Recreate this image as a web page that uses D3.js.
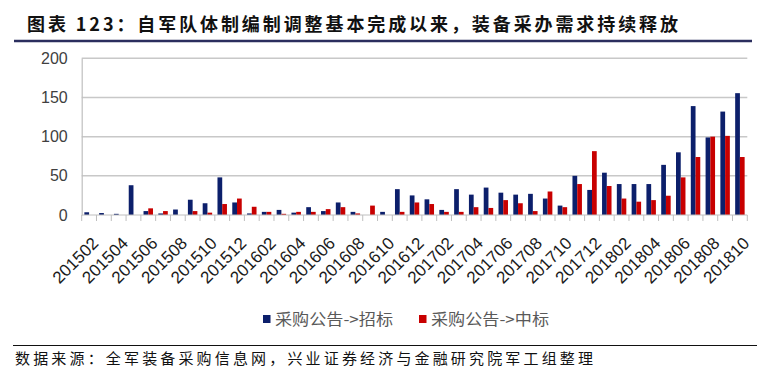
<!DOCTYPE html>
<html><head><meta charset="utf-8">
<script src="https://cdn.jsdelivr.net/npm/d3@7"></script>
<style>body{margin:0;background:#fff}svg{display:block}</style>
</head><body>
<script>
const months = ["201502","201503","201504","201505","201506","201507","201508","201509","201510","201511","201512",
"201601","201602","201603","201604","201605","201606","201607","201608","201609","201610","201611","201612",
"201701","201702","201703","201704","201705","201706","201707","201708","201709","201710","201711","201712",
"201801","201802","201803","201804","201805","201806","201807","201808","201809","201810"];
const tickLabels = ["201502","201504","201506","201508","201510","201512","201602","201604","201606","201608","201610","201612",
"201702","201704","201706","201708","201710","201712","201802","201804","201806","201808","201810"];
const zhaobiao = [3.5,2.5,1.5,38,5,2,7,19.5,15,48,16,2,4,6.5,3,10,5,16,4,0,4,33,25,20,6.5,33,26,35,28.5,26,27,21,12,50,32,54,39.5,39.5,39.5,64,80,139,99,132,155.5];
const zhongbiao = [0,0,0,0,8.5,5,0,5,3,14,21,10.5,4,1.5,4,4,7.5,10,2,12,0,4,16,14,4,4,10,9,19,15,5,30,10,39.5,81.5,37,21,17,19,24.6,48,74,100,101,74];
const yTicks = [0,50,100,150,200];
const seriesNames = ["采购公告->招标","采购公告->中标"];
const colors = ["#0C1F6B","#C80000"];
const titleText = "图表 123：自军队体制编制调整基本完成以来，装备采办需求持续释放";
const sourceText = "数据来源：全军装备采购信息网，兴业证券经济与金融研究院军工组整理";

const W=778,H=383;
const svg=d3.select("body").append("svg").attr("width",W).attr("height",H);
const cjk="'Noto Sans CJK SC','Noto Sans',sans-serif";

// title
svg.append("text").attr("x",27).attr("y",31).attr("font-family",cjk).attr("font-size",18).attr("font-weight",600)
  .attr("fill","#111").attr("textLength",651).attr("lengthAdjust","spacing").text(titleText);
svg.append("line").attr("x1",14).attr("x2",752).attr("y1",41).attr("y2",41).attr("stroke","#2B2E5E").attr("stroke-width",2.5);

const x=d3.scaleBand().domain(months).range([81.7,747.3]).paddingInner(0.36).paddingOuter(0.18);
const xs=d3.scaleBand().domain([0,1]).range([0,x.bandwidth()]);
const y=d3.scaleLinear().domain([0,200]).range([215,58.3]);

// gridlines
svg.append("g").selectAll("line").data(yTicks.filter(d=>d>0)).join("line")
  .attr("x1",81.7).attr("x2",747.3).attr("y1",d=>y(d)).attr("y2",d=>y(d))
  .attr("stroke","#C8C8C8").attr("stroke-width",1.5);

// y axis
const ya=svg.append("g").attr("transform","translate(81.7,0)").call(d3.axisLeft(y).tickValues(yTicks).tickSize(0).tickPadding(14));
ya.select(".domain").attr("stroke","#BFBFBF").attr("stroke-width",1.2);
ya.selectAll("text").attr("font-family","'Liberation Sans',Arial,sans-serif").attr("font-size",16).attr("fill","#404040");

// bars
const series=[zhaobiao,zhongbiao];
series.forEach((vals,si)=>{
  svg.append("g").selectAll("rect").data(vals).join("rect")
    .attr("x",(d,i)=>x(months[i])+xs(si)).attr("width",xs.bandwidth())
    .attr("y",d=>y(d)).attr("height",d=>y(0)-y(d)).attr("fill",colors[si]);
});

// x axis line and ticks at category boundaries
svg.append("line").attr("x1",81.7).attr("x2",747.3).attr("y1",y(0)).attr("y2",y(0)).attr("stroke","#BFBFBF").attr("stroke-width",1.2);
const bounds=months.map((m,i)=>x(m)-x.step()*x.paddingInner()/2).concat([747.3]);
svg.append("g").selectAll("line").data(bounds).join("line")
  .attr("x1",d=>d).attr("x2",d=>d).attr("y1",y(0)).attr("y2",y(0)+6).attr("stroke","#BFBFBF").attr("stroke-width",1);

// x labels
svg.append("g").selectAll("text").data(tickLabels).join("text")
  .attr("transform",d=>`translate(${x(d)+x.bandwidth()/2+2},${y(0)+21}) rotate(-45)`)
  .attr("text-anchor","end").attr("dy","0.7em")
  .attr("font-family","'Liberation Sans',Arial,sans-serif").attr("font-size",17).attr("fill","#1a1a1a").text(d=>d);

// legend
const lg=svg.append("g");
const lx=[263,419];
seriesNames.forEach((n,i)=>{
  lg.append("rect").attr("x",lx[i]).attr("y",315).attr("width",7.5).attr("height",8).attr("fill",colors[i]);
  lg.append("text").attr("x",lx[i]+12).attr("y",325).attr("font-family",cjk).attr("font-size",16)
    .attr("fill","#595959").attr("textLength",118).attr("lengthAdjust","spacingAndGlyphs").text(n);
});

// footer
svg.append("line").attr("x1",13).attr("x2",757).attr("y1",345.5).attr("y2",345.5).attr("stroke","#111").attr("stroke-width",1);
svg.append("text").attr("x",15).attr("y",364).attr("font-family",cjk).attr("font-size",15).attr("fill","#111")
  .attr("textLength",578).attr("lengthAdjust","spacing").text(sourceText);
</script>
</body></html>
